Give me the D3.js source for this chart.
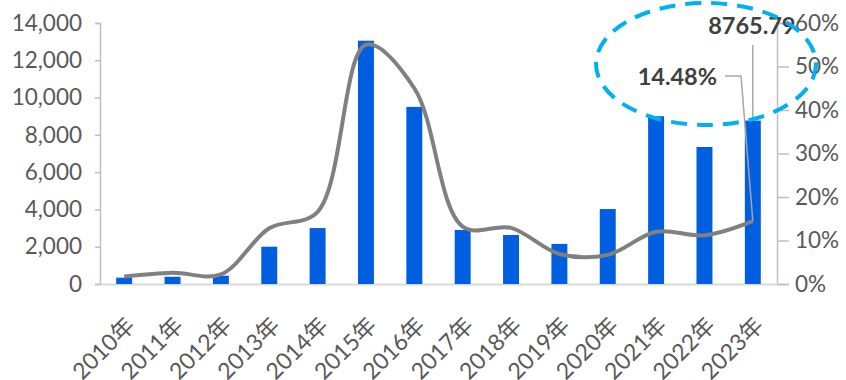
<!DOCTYPE html>
<html>
<head>
<meta charset="utf-8">
<script src="https://cdn.jsdelivr.net/npm/d3@7"></script>
<style>
  body { margin: 0; background: #fff; }
  text { font-family: Lato, 'Noto Sans CJK SC', sans-serif; }
</style>
</head>
<body>
<div id="chart"></div>
<script>
// chart values
var years = ['2010年', '2011年', '2012年', '2013年', '2014年', '2015年', '2016年',
  '2017年', '2018年', '2019年', '2020年', '2021年', '2022年', '2023年'];
var amounts = [340, 390, 445, 2000, 3000, 13050, 9500, 2900, 2630, 2150, 4020, 9000, 7350, 8765.79];
var ratios = [1.7, 2.6, 2.2, 12.8, 16.6, 55.0, 45.0, 13.2, 12.9, 6.9, 6.7, 12.0, 11.2, 14.48];
var leftTicks = [0, 2000, 4000, 6000, 8000, 10000, 12000, 14000];
var rightTicks = [0, 10, 20, 30, 40, 50, 60];

var width = 846, height = 380;
var margin = { top: 23, right: 69, bottom: 96, left: 100 };

var svg = d3.select('#chart').append('svg')
  .attr('width', width)
  .attr('height', height);

var x = d3.scaleBand()
  .domain(years)
  .range([margin.left, width - margin.right])
  .padding(0);

var y = d3.scaleLinear()
  .domain([0, 14000])
  .range([height - margin.bottom, margin.top]);

var y2 = d3.scaleLinear()
  .domain([0, 60])
  .range([height - margin.bottom, margin.top]);

var barW = x.bandwidth() * 0.33;

// left axis
var yAxis = d3.axisLeft(y)
  .tickValues(leftTicks)
  .tickSize(5)
  .tickPadding(13)
  .tickFormat(d3.format(','));

var gy = svg.append('g')
  .attr('transform', `translate(${margin.left}, 0)`)
  .call(yAxis);
gy.select('.domain').attr('stroke', '#bfbfbf').attr('stroke-width', 1.5);
gy.selectAll('.tick line').attr('stroke', '#bfbfbf').attr('stroke-width', 1.5);
gy.selectAll('.tick text')
  .attr('fill', '#595959')
  .style('font-size', '22.5px');

// right axis
var y2Axis = d3.axisRight(y2)
  .tickValues(rightTicks)
  .tickSize(12)
  .tickPadding(6)
  .tickFormat(d => d + '%');

var gy2 = svg.append('g')
  .attr('transform', `translate(${width - margin.right}, 0)`)
  .call(y2Axis);
gy2.select('.domain').attr('stroke', '#bfbfbf').attr('stroke-width', 1.5);
gy2.selectAll('.tick line').attr('stroke', '#bfbfbf').attr('stroke-width', 1.5);
gy2.selectAll('.tick text')
  .attr('fill', '#595959')
  .style('font-size', '22.5px');

// bottom axis
var xAxis = d3.axisBottom(x).tickSize(0).tickPadding(0);
var gx = svg.append('g')
  .attr('transform', `translate(0, ${height - margin.bottom})`)
  .call(xAxis);
gx.select('.domain').attr('stroke', '#d9d9d9').attr('stroke-width', 2);
gx.selectAll('.tick text')
  .attr('fill', '#595959')
  .style('font-size', '23px')
  .attr('text-anchor', 'end')
  .attr('y', 0)
  .attr('dy', 0)
  .attr('transform', 'translate(12, 43) rotate(-45)');

// bars
svg.selectAll('.bar')
  .data(amounts)
  .enter()
    .append('rect')
    .attr('class', 'bar')
    .attr('x', (d, i) => x(years[i]) + x.bandwidth() / 2 - barW / 2)
    .attr('width', barW)
    .attr('y', d => y(d))
    .attr('height', d => y(0) - y(d))
    .attr('fill', '#005ee0');

// ratio line
var line = d3.line()
  .x((d, i) => x(years[i]) + x.bandwidth() / 2)
  .y(d => y2(d))
  .curve(d3.curveCatmullRom);

svg.append('path')
  .datum(ratios)
  .attr('d', line)
  .attr('fill', 'none')
  .attr('stroke', '#808080')
  .attr('stroke-width', 4);

// last point labels + leaders
var last = years.length - 1;
var lx = x(years[last]) + x.bandwidth() / 2;

svg.append('path')
  .attr('d', `M${lx},${y(amounts[last]) - 1} V45`)
  .attr('stroke', '#a6a6a6')
  .attr('stroke-width', 1.5)
  .attr('fill', 'none');

svg.append('path')
  .attr('d', `M${lx},${y2(ratios[last])} L741,76 H725`)
  .attr('stroke', '#a6a6a6')
  .attr('stroke-width', 1.5)
  .attr('fill', 'none');

svg.append('text')
  .attr('x', lx - 1)
  .attr('y', 34)
  .attr('text-anchor', 'middle')
  .attr('fill', '#404040')
  .style('font-size', '23.5px')
  .style('font-weight', 'bold')
  .text(d3.format('.2f')(amounts[last]));

svg.append('text')
  .attr('x', 717)
  .attr('y', 85)
  .attr('text-anchor', 'end')
  .attr('fill', '#404040')
  .style('font-size', '23.5px')
  .style('font-weight', 'bold')
  .text(ratios[last].toFixed(2) + '%');

// highlight ellipse
svg.append('ellipse')
  .attr('cx', 706)
  .attr('cy', 64)
  .attr('rx', 110)
  .attr('ry', 61)
  .attr('fill', 'none')
  .attr('stroke', '#00b0f0')
  .attr('stroke-width', 4)
  .attr('stroke-dasharray', '16 10');
</script>
</body>
</html>
